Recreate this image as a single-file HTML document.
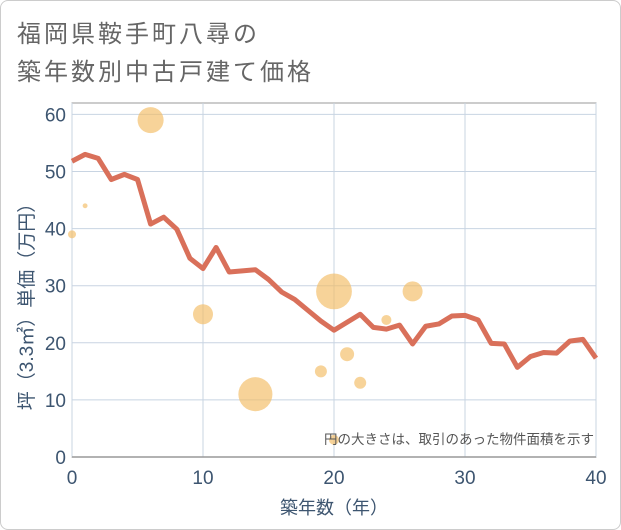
<!DOCTYPE html>
<html><head><meta charset="utf-8"><style>
body{margin:0;background:#fff;}
#wrap{position:relative;width:621px;height:530px;overflow:hidden;font-family:"Liberation Sans","Noto Sans CJK JP",sans-serif;}
#frame{position:absolute;left:0;top:0;width:619px;height:528px;border:1px solid #ccc;border-radius:8px;}
.title{position:absolute;left:17px;color:#666;font-size:24px;letter-spacing:3px;}
</style></head><body>
<div id="wrap">
<div id="frame"></div>
<div class="title" style="top:14px">福岡県鞍手町八尋の</div>
<div class="title" style="top:52px">築年数別中古戸建て価格</div>
<svg id="svg" width="621" height="530" style="position:absolute;left:0;top:0"></svg>
</div>
<script>
const lineYears=[0,1,2,3,4,5,6,7,8,9,10,11,12,13,14,15,16,17,18,19,20,21,22,23,24,25,26,27,28,29,30,31,32,33,34,35,36,37,38,39,40];
const lineValues=[51.8,53,52.3,48.6,49.5,48.6,40.8,42,39.9,34.8,33,36.7,32.4,32.6,32.8,31.1,28.9,27.6,25.7,23.8,22.2,23.6,25,22.7,22.4,23.1,19.8,22.9,23.3,24.7,24.8,24,19.9,19.8,15.7,17.6,18.3,18.2,20.3,20.6,17.3];
const bubbleYears=[0,1,6,10,14,19,20,20,21,22,24,26];
const bubbleValues=[39,44,59,25,11,15,29,3,18,13,24,29];
const bubbleAreas=[16,6,170,100,290,36,320,25,49,36,25,100];
const xTicks=[0,10,20,30,40];
const yTicks=[0,10,20,30,40,50,60];
const X0=72,X1=596,Y0=457,Y1=103;
const xs=v=>X0+(v-0)/40*(X1-X0);
const ys=v=>Y0-v/62*(Y0-Y1);
const svg=document.getElementById('svg');
const NS='http://www.w3.org/2000/svg';
function mk(t,a){const e=document.createElementNS(NS,t);for(const k in a)e.setAttribute(k,a[k]);svg.appendChild(e);return e;}
let r=mk('rect',{x:X0,y:Y1,width:X1-X0,height:Y0-Y1,fill:'none',stroke:'#999','stroke-width':1});


yTicks.forEach(t=>{
 let g=mk('line',{x1:X0,x2:X1,y1:ys(t),y2:ys(t),stroke:'#c8d4e2','stroke-width':1});
 
 
 let tx=mk('text',{x:X0-6,y:ys(t)+7,'text-anchor':'end','font-size':19,fill:'#3d5570'});
 tx.textContent=t;
 
 
});
xTicks.forEach(t=>{
 let g=mk('line',{x1:xs(t),x2:xs(t),y1:Y1,y2:Y0,stroke:'#c8d4e2','stroke-width':1});
 
 
 let tx=mk('text',{x:xs(t),y:Y0+27,'text-anchor':'middle','font-size':19,fill:'#3d5570'});
 tx.textContent=t;
 
 
});
let ax=mk('line',{x1:X0,x2:X1,y1:Y0,y2:Y0,stroke:'#999','stroke-width':1.5});


bubbleYears.forEach((yr,i)=>{
 let c=mk('circle',{cx:xs(yr),cy:ys(bubbleValues[i]),r:Math.sqrt(bubbleAreas[i]),fill:'#f3bb62','fill-opacity':0.65});
 
 
});
let p=mk('polyline',{points:lineYears.map((y,i)=>xs(y)+','+ys(lineValues[i])).join(' '),fill:'none',stroke:'#d9705a','stroke-width':5,'stroke-linejoin':'round'});


let n=mk('text',{x:594,y:444,'text-anchor':'end','font-size':13.5,fill:'#555'});
n.textContent='円の大きさは、取引のあった物件面積を示す';


let xt=mk('text',{x:(X0+X1)/2,y:514,'text-anchor':'middle','font-size':18,fill:'#3d5570'});
xt.textContent='築年数（年）';


let yt=mk('text',{x:0,y:0,'text-anchor':'middle','font-size':19,fill:'#3d5570',transform:'translate(33,'+((Y0+Y1)/2+22)+') rotate(-90)'});
yt.textContent='坪（3.3㎡）単価（万円）';


</script>
</body></html>
